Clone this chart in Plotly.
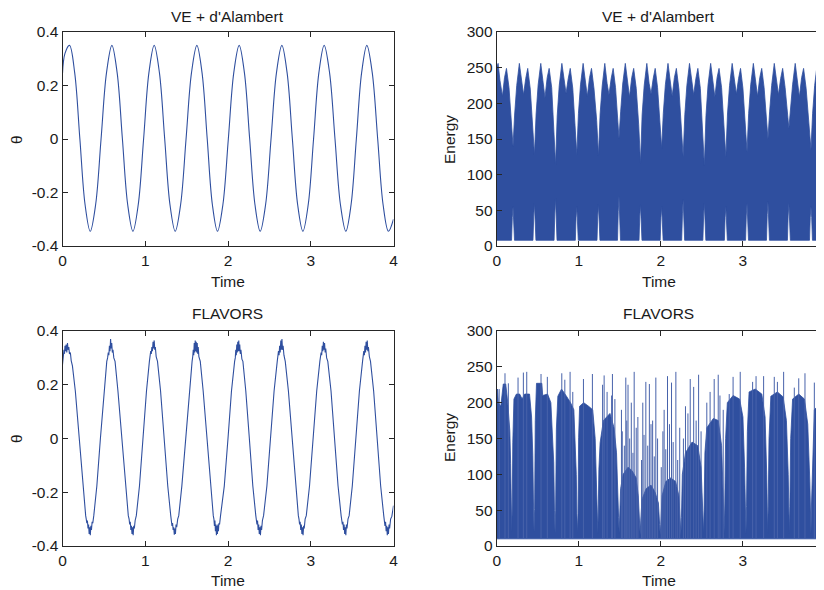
import plotly.graph_objects as go

BLUE = "#2f4f9f"
SPIKE = "#4863ab"
TXT = "#1a1a1a"
FONT = "Liberation Sans, Arial, Helvetica, sans-serif"

# ---------------- theta, VE + d'Alambert ----------------
ve_theta_t = [0.000, 0.030, 0.085, 0.1475, 0.210, 0.2725, 0.335, 0.4005, 0.466, 0.5315,
              0.597, 0.6605, 0.724, 0.7875, 0.851, 0.9155, 0.980, 1.044, 1.108, 1.1715,
              1.235, 1.2985, 1.362, 1.4275, 1.493, 1.5585, 1.624, 1.6865, 1.749, 1.811,
              1.873, 1.9385, 2.004, 2.0695, 2.135, 2.1985, 2.262, 2.3255, 2.389, 2.4545,
              2.520, 2.5855, 2.651, 2.7145, 2.778, 2.8415, 2.905, 2.9695, 3.034, 3.098,
              3.162, 3.2275, 3.293, 3.3585, 3.424, 3.4875, 3.551, 3.6145, 3.678, 3.7435,
              3.809, 3.874, 3.939, 4.000]
ve_theta_v = [0.245, 0.320, 0.350, 0.247, 0.000, -0.245, -0.345, -0.245, 0.000, 0.247,
              0.350, 0.247, 0.000, -0.245, -0.345, -0.245, 0.000, 0.247, 0.350, 0.247,
              0.000, -0.245, -0.345, -0.245, 0.000, 0.247, 0.350, 0.247, 0.000, -0.245,
              -0.345, -0.245, 0.000, 0.247, 0.350, 0.247, 0.000, -0.245, -0.345, -0.245,
              0.000, 0.247, 0.350, 0.247, 0.000, -0.245, -0.345, -0.245, 0.000, 0.247,
              0.350, 0.247, 0.000, -0.245, -0.345, -0.245, 0.000, 0.247, 0.350, 0.247,
              0.000, -0.245, -0.345, -0.300]

# ---------------- theta, FLAVORS ----------------
fl_theta = [
    (0.000, 0.275), (0.006, 0.300), (0.012, 0.290), (0.018, 0.330), (0.024, 0.315), (0.030, 0.345),
    (0.036, 0.325), (0.044, 0.350), (0.052, 0.320), (0.060, 0.355), (0.068, 0.330), (0.076, 0.340),
    (0.084, 0.315), (0.095, 0.320), (0.105, 0.290), (0.120, 0.270),
    (0.155, 0.177), (0.200, 0.000), (0.245, -0.177), (0.280, -0.287),
    (0.287, -0.300), (0.294, -0.315), (0.301, -0.305), (0.308, -0.335), (0.315, -0.320), (0.322, -0.355),
    (0.329, -0.330), (0.336, -0.360), (0.343, -0.325), (0.350, -0.340), (0.358, -0.310), (0.366, -0.315),
    (0.378, -0.287),
    (0.415, -0.177), (0.458, 0.000), (0.500, 0.177), (0.535, 0.287),
    (0.545, 0.300), (0.553, 0.320), (0.560, 0.310), (0.567, 0.345), (0.574, 0.325), (0.581, 0.370),
    (0.588, 0.335), (0.595, 0.355), (0.602, 0.320), (0.610, 0.330), (0.620, 0.300), (0.635, 0.287),
    (0.670, 0.177), (0.715, 0.000), (0.760, -0.177), (0.795, -0.287),
    (0.805, -0.300), (0.812, -0.320), (0.819, -0.310), (0.826, -0.340), (0.833, -0.325), (0.840, -0.355),
    (0.847, -0.330), (0.854, -0.360), (0.861, -0.325), (0.868, -0.335), (0.878, -0.305), (0.892, -0.287),
    (0.930, -0.177), (0.972, 0.000), (1.015, 0.177), (1.050, 0.287),
    (1.058, 0.300), (1.066, 0.325), (1.073, 0.315), (1.080, 0.340), (1.087, 0.325), (1.094, 0.360),
    (1.101, 0.335), (1.108, 0.365), (1.115, 0.330), (1.122, 0.340), (1.132, 0.305), (1.148, 0.287),
    (1.185, 0.177), (1.228, 0.000), (1.272, -0.177), (1.308, -0.287),
    (1.316, -0.300), (1.323, -0.325), (1.330, -0.315), (1.337, -0.340), (1.344, -0.330), (1.351, -0.358),
    (1.358, -0.335), (1.365, -0.355), (1.372, -0.320), (1.380, -0.330), (1.392, -0.300), (1.405, -0.287),
    (1.442, -0.177), (1.487, 0.000), (1.530, 0.177), (1.566, 0.287),
    (1.574, 0.305), (1.580, 0.330), (1.586, 0.310), (1.592, 0.355), (1.598, 0.320), (1.604, 0.365),
    (1.610, 0.325), (1.616, 0.360), (1.622, 0.320), (1.628, 0.355), (1.634, 0.315), (1.640, 0.340),
    (1.648, 0.305), (1.665, 0.287),
    (1.700, 0.177), (1.745, 0.000), (1.788, -0.177), (1.822, -0.287),
    (1.830, -0.300), (1.836, -0.325), (1.842, -0.305), (1.848, -0.345), (1.854, -0.320), (1.860, -0.360),
    (1.866, -0.325), (1.872, -0.355), (1.878, -0.320), (1.884, -0.345), (1.890, -0.315), (1.898, -0.320),
    (1.910, -0.287),
    (1.955, -0.177), (2.000, 0.000), (2.042, 0.177), (2.080, 0.287),
    (2.088, 0.300), (2.094, 0.330), (2.100, 0.310), (2.106, 0.350), (2.112, 0.320), (2.118, 0.360),
    (2.124, 0.325), (2.130, 0.365), (2.136, 0.325), (2.142, 0.350), (2.148, 0.315), (2.156, 0.330),
    (2.168, 0.295), (2.180, 0.287),
    (2.215, 0.177), (2.258, 0.000), (2.300, -0.177), (2.336, -0.287),
    (2.344, -0.300), (2.350, -0.320), (2.357, -0.305), (2.364, -0.340), (2.371, -0.320), (2.378, -0.355),
    (2.385, -0.330), (2.392, -0.360), (2.399, -0.325), (2.406, -0.340), (2.416, -0.305), (2.430, -0.287),
    (2.470, -0.177), (2.515, 0.000), (2.557, 0.177), (2.595, 0.287),
    (2.603, 0.300), (2.610, 0.325), (2.617, 0.310), (2.624, 0.345), (2.631, 0.320), (2.638, 0.365),
    (2.645, 0.330), (2.652, 0.370), (2.659, 0.330), (2.666, 0.345), (2.676, 0.310), (2.692, 0.287),
    (2.730, 0.177), (2.773, 0.000), (2.815, -0.177), (2.850, -0.287),
    (2.858, -0.300), (2.865, -0.320), (2.872, -0.310), (2.879, -0.340), (2.886, -0.320), (2.893, -0.355),
    (2.900, -0.330), (2.907, -0.360), (2.914, -0.325), (2.921, -0.335), (2.932, -0.300), (2.946, -0.287),
    (2.985, -0.177), (3.030, 0.000), (3.072, 0.177), (3.110, 0.287),
    (3.118, 0.300), (3.125, 0.320), (3.132, 0.310), (3.139, 0.345), (3.146, 0.325), (3.153, 0.360),
    (3.160, 0.330), (3.167, 0.355), (3.174, 0.320), (3.181, 0.335), (3.192, 0.300), (3.206, 0.287),
    (3.245, 0.177), (3.288, 0.000), (3.330, -0.177), (3.367, -0.287),
    (3.375, -0.300), (3.382, -0.320), (3.389, -0.310), (3.396, -0.340), (3.403, -0.320), (3.410, -0.355),
    (3.417, -0.330), (3.424, -0.360), (3.431, -0.320), (3.438, -0.335), (3.450, -0.300), (3.464, -0.287),
    (3.502, -0.177), (3.546, 0.000), (3.588, 0.177), (3.626, 0.287),
    (3.634, 0.300), (3.641, 0.325), (3.648, 0.310), (3.655, 0.345), (3.662, 0.320), (3.669, 0.360),
    (3.676, 0.330), (3.683, 0.365), (3.690, 0.325), (3.697, 0.340), (3.708, 0.305), (3.722, 0.287),
    (3.760, 0.177), (3.803, 0.000), (3.845, -0.177), (3.882, -0.287),
    (3.890, -0.300), (3.897, -0.325), (3.904, -0.310), (3.911, -0.345), (3.918, -0.325), (3.925, -0.360),
    (3.932, -0.330), (3.939, -0.355), (3.946, -0.320), (3.953, -0.335), (3.965, -0.300), (3.980, -0.290),
    (4.000, -0.250),
]
fl_theta_t = [p[0] for p in fl_theta]
fl_theta_v = [p[1] for p in fl_theta]

# ---------------- Energy, VE + d'Alambert : envelope of the fast oscillation ----------------
ve_up = [
    (0.000, 250), (0.017, 256), (0.040, 232), (0.070, 210), (0.095, 236), (0.119, 249), (0.150, 222), (0.178, 178),
    (0.199, 140),
    (0.219, 185), (0.244, 225), (0.276, 256), (0.304, 228), (0.327, 212), (0.354, 235), (0.378, 249), (0.409, 220), (0.439, 172),
    (0.460, 128),
    (0.480, 185), (0.505, 226), (0.537, 256), (0.565, 229), (0.588, 208), (0.615, 236), (0.639, 249), (0.670, 222), (0.697, 170),
    (0.717, 114),
    (0.737, 182), (0.762, 225), (0.794, 256), (0.822, 228), (0.845, 214), (0.872, 235), (0.896, 249), (0.927, 221), (0.956, 172),
    (0.976, 128),
    (0.996, 186), (1.021, 226), (1.053, 256), (1.081, 229), (1.104, 210), (1.131, 236), (1.155, 249), (1.186, 220), (1.218, 176),
    (1.240, 127),
    (1.260, 185), (1.285, 224), (1.317, 256), (1.345, 228), (1.368, 212), (1.395, 235), (1.419, 249), (1.448, 222), (1.470, 180),
    (1.490, 151),
    (1.510, 188), (1.535, 227), (1.567, 256), (1.595, 229), (1.618, 209), (1.645, 236), (1.669, 249), (1.700, 221), (1.730, 170),
    (1.752, 116),
    (1.772, 184), (1.797, 225), (1.829, 256), (1.857, 228), (1.880, 213), (1.907, 235), (1.931, 249), (1.960, 222), (1.988, 178),
    (2.010, 137),
    (2.030, 186), (2.055, 226), (2.087, 256), (2.115, 229), (2.138, 210), (2.165, 236), (2.189, 249), (2.220, 220), (2.250, 172),
    (2.272, 125),
    (2.292, 184), (2.317, 225), (2.349, 256), (2.377, 228), (2.400, 212), (2.427, 235), (2.451, 249), (2.481, 221), (2.508, 170),
    (2.530, 113),
    (2.550, 183), (2.575, 226), (2.607, 256), (2.635, 229), (2.658, 209), (2.685, 236), (2.709, 249), (2.740, 222), (2.770, 174),
    (2.792, 125),
    (2.812, 185), (2.837, 225), (2.869, 256), (2.897, 228), (2.920, 213), (2.947, 235), (2.971, 249), (3.000, 221), (3.028, 176),
    (3.050, 132),
    (3.070, 186), (3.095, 226), (3.127, 256), (3.155, 229), (3.178, 210), (3.205, 236), (3.229, 249), (3.258, 222), (3.284, 182),
    (3.305, 150),
    (3.325, 188), (3.350, 225), (3.382, 256), (3.410, 228), (3.433, 212), (3.460, 235), (3.484, 249), (3.514, 222), (3.540, 190),
    (3.560, 165),
    (3.580, 192), (3.605, 226), (3.637, 256), (3.665, 229), (3.688, 209), (3.715, 236), (3.739, 249), (3.770, 221), (3.805, 174),
    (3.829, 135),
    (3.849, 186), (3.874, 225), (3.906, 256), (3.934, 228), (3.957, 212), (3.984, 235), (4.000, 244),
]
ve_lo = [
    (0.000, 8),
    (0.181, 8), (0.190, 40), (0.199, 55), (0.208, 40), (0.217, 8),
    (0.442, 8), (0.451, 42), (0.460, 60), (0.469, 42), (0.478, 8),
    (0.699, 8), (0.708, 45), (0.717, 67), (0.726, 45), (0.735, 8),
    (0.958, 8), (0.967, 40), (0.976, 55), (0.985, 40), (0.994, 8),
    (1.222, 8), (1.231, 42), (1.240, 58), (1.249, 42), (1.258, 8),
    (1.472, 8), (1.481, 48), (1.490, 70), (1.499, 48), (1.508, 8),
    (1.734, 8), (1.743, 42), (1.752, 58), (1.761, 42), (1.770, 8),
    (1.992, 8), (2.001, 40), (2.010, 55), (2.019, 40), (2.028, 8),
    (2.254, 8), (2.263, 45), (2.272, 65), (2.281, 45), (2.290, 8),
    (2.512, 8), (2.521, 42), (2.530, 60), (2.539, 42), (2.548, 8),
    (2.774, 8), (2.783, 40), (2.792, 55), (2.801, 40), (2.810, 8),
    (3.032, 8), (3.041, 42), (3.050, 60), (3.059, 42), (3.068, 8),
    (3.287, 8), (3.296, 44), (3.305, 62), (3.314, 44), (3.323, 8),
    (3.542, 8), (3.551, 42), (3.560, 60), (3.569, 42), (3.578, 8),
    (3.811, 8), (3.820, 40), (3.829, 55), (3.838, 40), (3.847, 8),
    (4.000, 8),
]

# ---------------- Energy, FLAVORS ----------------
fl_up = [
    (0.000, 209), (0.010, 219), (0.020, 200), (0.050, 195), (0.080, 226), (0.110, 226), (0.135, 200),
    (0.160, 160), (0.170, 115), (0.176, 60),
    (0.183, 20),
    (0.190, 60), (0.196, 144), (0.210, 205), (0.240, 212), (0.280, 212), (0.310, 205), (0.340, 212),
    (0.400, 212), (0.425, 180), (0.440, 126), (0.448, 60),
    (0.455, 20),
    (0.462, 51), (0.470, 175), (0.485, 227), (0.550, 227), (0.560, 210), (0.620, 212), (0.660, 200),
    (0.680, 160), (0.695, 116), (0.704, 50),
    (0.711, 18),
    (0.718, 50), (0.727, 163), (0.745, 209), (0.790, 219), (0.850, 209), (0.900, 200), (0.940, 190),
    (0.960, 140), (0.970, 100), (0.977, 45),
    (0.984, 18),
    (0.991, 45), (0.998, 151), (1.010, 195), (1.060, 200), (1.120, 195), (1.170, 190), (1.200, 150),
    (1.215, 80), (1.225, 40),
    (1.232, 18),
    (1.239, 60), (1.245, 107), (1.260, 144), (1.300, 175), (1.380, 185), (1.430, 165), (1.460, 130),
    (1.475, 90), (1.485, 40),
    (1.492, 18),
    (1.499, 40), (1.510, 80), (1.540, 100), (1.600, 110), (1.650, 105), (1.700, 95), (1.725, 70), (1.740, 35),
    (1.748, 15),
    (1.755, 35), (1.770, 65), (1.820, 80), (1.880, 85), (1.930, 75), (1.970, 60), (1.985, 30),
    (1.992, 15),
    (1.999, 30), (2.015, 70), (2.060, 90), (2.120, 95), (2.180, 90), (2.220, 70), (2.236, 35),
    (2.244, 15),
    (2.251, 40), (2.262, 100), (2.300, 130), (2.380, 145), (2.450, 140), (2.490, 110), (2.510, 50),
    (2.520, 18),
    (2.527, 50), (2.537, 130), (2.560, 165), (2.640, 178), (2.700, 175), (2.740, 140), (2.760, 70),
    (2.772, 18),
    (2.779, 60), (2.789, 150), (2.810, 200), (2.880, 210), (2.960, 205), (3.000, 180), (3.020, 110), (3.030, 50),
    (3.037, 18),
    (3.044, 55), (3.054, 160), (3.075, 215), (3.150, 219), (3.230, 212), (3.270, 180), (3.290, 100), (3.295, 50),
    (3.301, 18),
    (3.308, 55), (3.318, 150), (3.340, 209), (3.420, 215), (3.490, 208), (3.530, 175), (3.552, 100), (3.559, 50),
    (3.565, 18),
    (3.572, 55), (3.582, 150), (3.605, 205), (3.680, 212), (3.750, 205), (3.790, 170), (3.815, 90), (3.822, 50),
    (3.829, 18),
    (3.836, 60), (3.846, 110), (3.870, 190), (3.950, 200), (4.000, 195),
]
fl_lo = [(0.000, 10), (4.000, 10)]

# thin spikes of the FLAVORS energy (time, peak value)
fl_spike_t = [0.030, 0.101, 0.142, 0.260, 0.325, 0.366, 0.540, 0.617, 0.793, 0.830, 0.894, 0.927,
              1.057, 1.166, 1.290, 1.309, 1.400, 1.410, 1.520, 1.573, 1.600, 1.640, 1.675, 1.720,
              1.780, 1.817, 1.860, 1.900, 1.939, 2.040, 2.081, 2.130, 2.183, 2.300, 2.358, 2.400,
              2.460, 2.600, 2.650, 2.699, 2.833, 2.880, 2.967, 3.118, 3.160, 3.252, 3.382, 3.420,
              3.496, 3.626, 3.680, 3.756, 3.870, 3.930,
              1.530, 1.555, 1.585, 1.620, 1.660, 1.700, 1.765, 1.795, 1.840, 1.880, 1.920, 1.960,
              2.005, 2.025, 2.060, 2.105, 2.150, 2.205, 2.230, 2.275, 2.330, 2.430, 2.490, 1.345,
              1.440, 2.560, 2.720, 2.760]
fl_spike_v = [219, 241, 227, 235, 242, 243, 240, 236, 241, 232, 243, 215,
              233, 240, 225, 238, 210, 240, 190, 235, 225, 200, 243, 180,
              200, 229, 226, 175, 235, 190, 237, 228, 243, 195, 233, 222,
              239, 215, 233, 239, 212, 236, 243, 229, 237, 237, 236, 229,
              243, 221, 234, 241, 228, 232,
              160, 140, 175, 150, 130, 165, 120, 155, 140, 170, 125, 150,
              110, 160, 135, 170, 145, 120, 165, 150, 185, 175, 160, 215,
              205, 200, 210, 190]

titles = ["VE + d'Alambert", "VE + d'Alambert", "FLAVORS", "FLAVORS"]
theta_ticks = [-0.4, -0.2, 0, 0.2, 0.4]
theta_ticktext = ["-0.4", "-0.2", "0", "0.2", "0.4"]
energy_ticks = [0, 50, 100, 150, 200, 250, 300]
energy_ticktext = ["0", "50", "100", "150", "200", "250", "300"]
time_ticks = [0, 1, 2, 3, 4]
time_ticktext = ["0", "1", "2", "3", "4"]

# ---------------- figure ----------------
W, H = 824, 590
OFF = 8  # the page places the figure 8 px from the window's top-left corner
fig = go.Figure()

fig.add_trace(go.Scatter(x=ve_theta_t, y=ve_theta_v, mode="lines",
                         line=dict(color=BLUE, width=1.1, shape="spline", smoothing=1.0),
                         xaxis="x", yaxis="y", showlegend=False))


def poly(up, lo):
    xs = [p[0] for p in up] + [p[0] for p in reversed(lo)]
    ys = [p[1] for p in up] + [p[1] for p in reversed(lo)]
    return xs, ys


xs, ys = poly(ve_up, ve_lo)
fig.add_trace(go.Scatter(x=xs, y=ys, mode="lines", fill="toself", fillcolor=BLUE,
                         line=dict(color=BLUE, width=0.8), xaxis="x2", yaxis="y2", showlegend=False))

fig.add_trace(go.Scatter(x=fl_theta_t, y=fl_theta_v, mode="lines",
                         line=dict(color=BLUE, width=1.1),
                         xaxis="x3", yaxis="y3", showlegend=False))

xs, ys = poly(fl_up, fl_lo)
fig.add_trace(go.Scatter(x=xs, y=ys, mode="lines", fill="toself", fillcolor=BLUE,
                         line=dict(color=BLUE, width=0.8), xaxis="x4", yaxis="y4", showlegend=False))

sx, sy = [], []
for t, v in zip(fl_spike_t, fl_spike_v):
    sx += [t, t, None]
    sy += [10, v, None]
fig.add_trace(go.Scatter(x=sx, y=sy, mode="lines", line=dict(color=SPIKE, width=1),
                         xaxis="x4", yaxis="y4", showlegend=False))

# pixel geometry of the four plot boxes (window pixels)
left_x = (62.5, 393.5)
right_x = (496.7, 825.0)
top_y = (32, 246)
bot_y = (331, 546)


def dx(a):
    return [(a[0] - OFF) / W, (a[1] - OFF) / W]


def dy(a):
    return [(H - (a[1] - OFF)) / H, (H - (a[0] - OFF)) / H]


axcommon = dict(showline=True, linecolor="#262626", linewidth=1, mirror="ticks",
                ticks="inside", ticklen=5, tickcolor="#262626", tickwidth=1,
                showgrid=False, zeroline=False, automargin=False,
                tickfont=dict(family=FONT, size=15.5, color=TXT))

xa = dict(range=[0, 4], tickvals=time_ticks, ticktext=time_ticktext, **axcommon)
fig.update_layout(
    template="none",
    xaxis=dict(domain=dx(left_x), anchor="y", **xa),
    xaxis2=dict(domain=dx(right_x), anchor="y2", **xa),
    xaxis3=dict(domain=dx(left_x), anchor="y3", **xa),
    xaxis4=dict(domain=dx(right_x), anchor="y4", **xa),
    yaxis=dict(domain=dy(top_y), anchor="x", range=[-0.4, 0.4], tickvals=theta_ticks,
               ticktext=theta_ticktext, **axcommon),
    yaxis2=dict(domain=dy(top_y), anchor="x2", range=[0, 300], tickvals=energy_ticks,
                ticktext=energy_ticktext, **axcommon),
    yaxis3=dict(domain=dy(bot_y), anchor="x3", range=[-0.4, 0.4], tickvals=theta_ticks,
                ticktext=theta_ticktext, **axcommon),
    yaxis4=dict(domain=dy(bot_y), anchor="x4", range=[0, 300], tickvals=energy_ticks,
                ticktext=energy_ticktext, **axcommon),
    width=W, height=H, autosize=False, margin=dict(l=0, r=0, t=0, b=0, pad=0),
    paper_bgcolor="white", plot_bgcolor="white",
    font=dict(family=FONT, size=15.5, color=TXT),
)

ann = []


def txt(x_px, y_px, s, angle=0):
    ann.append(dict(x=(x_px - OFF) / W, y=(H - (y_px - OFF)) / H, xref="paper", yref="paper",
                    text=s, showarrow=False, textangle=angle, xanchor="center", yanchor="middle",
                    font=dict(family=FONT, size=15.5, color=TXT)))


txt(227, 16, titles[0])
txt(658, 16, titles[1])
txt(227, 313, titles[2])
txt(658, 313, titles[3])
for yy in (281, 580):
    txt(228, yy, "Time")
    txt(659, yy, "Time")
txt(16, 139, "θ", -90)
txt(16, 438, "θ", -90)
txt(449, 140, "Energy", -90)
txt(449, 438, "Energy", -90)
fig.update_layout(annotations=ann)

fig.write_html("out.html")
